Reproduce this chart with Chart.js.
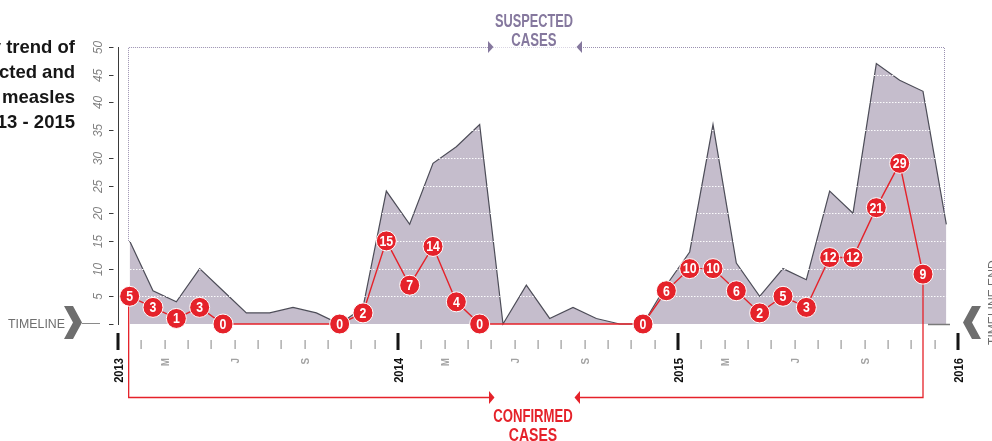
<!DOCTYPE html>
<html><head><meta charset="utf-8">
<script src="https://cdn.jsdelivr.net/npm/chart.js@4.4.1/dist/chart.umd.min.js"></script>
<style>html,body{margin:0;padding:0;background:#fff;overflow:hidden}canvas{display:block}</style>
</head><body>
<canvas id="c" width="992" height="441"></canvas>
<script>
// ---- data ----
const years = ['2013', '2014', '2015'];
const monthNames = ['Jan','Feb','Mar','Apr','May','Jun','Jul','Aug','Sep','Oct','Nov','Dec'];
const yearTickLabels = ['2013', '2014', '2015', '2016'];
const seasonMonthIdx = [2, 5, 8];
const seasonLetters = ['M', 'J', 'S'];
const yTicks = [0, 5, 10, 15, 20, 25, 30, 35, 40, 45, 50];
const suspected = [15, 6, 4, 10, 6, 2, 2, 3, 2, 0, 3, 24,
                   18, 29, 32, 36, 0, 7, 1, 3, 1, 0, 0, 7,
                   13, 36, 11, 5, 10, 8, 24, 20, 47, 44, 42, 18];
const confirmed = [5, 3, 1, 3, 0, null, null, null, null, 0, 2, 15,
                   7, 14, 4, 0, null, null, null, null, null, null, 0, 6,
                   10, 10, 6, 2, 5, 3, 12, 12, 21, 29, 9, null];
const titleLines = ['Monthly trend of', 'suspected and', 'confirmed measles', 'cases, 2013 - 2015'];

const categories = [];
years.forEach(y => monthNames.forEach(m => categories.push(m + ' ' + y)));

const RED = '#e5222a';
const PURPLE = '#85789e';
const FONT = '"Liberation Sans", Arial, sans-serif';

function condText(ctx, text, x, y, font, color, sx, align) {
  ctx.save();
  ctx.font = font; ctx.fillStyle = color;
  ctx.textAlign = align || 'center';
  ctx.translate(x, y); ctx.scale(sx, 1);
  ctx.fillText(text, 0, 0);
  ctx.restore();
}
function rotText(ctx, text, x, y, font, color, align, baseline, sx) {
  ctx.save();
  ctx.font = font; ctx.fillStyle = color;
  ctx.textAlign = align; ctx.textBaseline = baseline;
  ctx.translate(x, y); ctx.rotate(-Math.PI / 2); ctx.scale(sx || 1, 1);
  ctx.fillText(text, 0, 0);
  ctx.restore();
}
function tri(ctx, pts, color) {
  ctx.save(); ctx.fillStyle = color; ctx.beginPath();
  ctx.moveTo(pts[0][0], pts[0][1]); ctx.lineTo(pts[1][0], pts[1][1]); ctx.lineTo(pts[2][0], pts[2][1]);
  ctx.closePath(); ctx.fill(); ctx.restore();
}

const decor = {
  id: 'decor',
  afterDatasetDraw(chart, args) {
    const { ctx, chartArea: a, scales: { x, y } } = chart;
    if (args.index === 0) {
      // white dotted grid over the area
      ctx.save();
      ctx.strokeStyle = 'rgba(255,255,255,0.95)'; ctx.lineWidth = 1; ctx.setLineDash([1.5, 1.5]);
      yTicks.forEach(v => {
        if (v === 0 || v === 50) return;
        const py = Math.round(y.getPixelForValue(v)) + 0.5;
        ctx.beginPath(); ctx.moveTo(a.left, py); ctx.lineTo(a.right, py); ctx.stroke();
      });
      ctx.restore();

      // suspected bracket (top, dotted)
      const sMeta = chart.getDatasetMeta(0).data;
      const p0 = sMeta[0], pL = sMeta[sMeta.length - 1];
      ctx.save();
      ctx.strokeStyle = '#9a90b0'; ctx.lineWidth = 1; ctx.setLineDash([1, 1]);
      const ty = a.top + 0.5;
      ctx.beginPath();
      ctx.moveTo(Math.round(p0.x) - 1.5, p0.y); ctx.lineTo(Math.round(p0.x) - 1.5, ty); ctx.lineTo(489, ty);
      ctx.moveTo(579, ty); ctx.lineTo(Math.round(pL.x) - 1.5, ty); ctx.lineTo(Math.round(pL.x) - 1.5, pL.y - 12);
      ctx.stroke();
      ctx.strokeStyle = 'rgba(180,172,200,0.5)';
      ctx.beginPath(); ctx.moveTo(493, ty); ctx.lineTo(577, ty); ctx.stroke();
      ctx.restore();
      tri(ctx, [[488, 41], [493.5, 47], [488, 53]], PURPLE);
      tri(ctx, [[582, 41], [576.5, 47], [582, 53]], PURPLE);

      // confirmed bracket (bottom, red)
      const cMeta = chart.getDatasetMeta(1).data;
      let last = 0;
      confirmed.forEach((v, i) => { if (v !== null) last = i; });
      const c0 = cMeta[0], cL = cMeta[last];
      const by = 397.5;
      ctx.save();
      ctx.strokeStyle = RED; ctx.lineWidth = 1.3;
      ctx.beginPath();
      ctx.moveTo(c0.x - 1, c0.y); ctx.lineTo(c0.x - 1, by); ctx.lineTo(490, by);
      ctx.moveTo(578, by); ctx.lineTo(cL.x, by); ctx.lineTo(cL.x, cL.y);
      ctx.stroke();
      ctx.restore();
      tri(ctx, [[489, 391], [494.5, 397.5], [489, 404]], RED);
      tri(ctx, [[580, 391], [574.5, 397.5], [580, 404]], RED);
    }
    if (args.index === 1) {
      const meta = chart.getDatasetMeta(1).data;
      ctx.save();
      ctx.textBaseline = 'middle';
      confirmed.forEach((v, i) => {
        if (v === null) return;
        const p = meta[i];
        condText(ctx, String(v), p.x, p.y + 1, 'bold 14px ' + FONT, '#fff', 0.88);
      });
      ctx.restore();
    }
  },
  afterDraw(chart) {
    const { ctx, chartArea: a, scales: { x, y } } = chart;
    const step = x.getPixelForValue(1) - x.getPixelForValue(0);
    const bound = k => x.getPixelForValue(0) - step / 2 + k * step;

    // y axis
    ctx.save();
    ctx.strokeStyle = '#3a3a3a'; ctx.lineWidth = 1;
    ctx.beginPath(); ctx.moveTo(a.left + 0.5, a.top); ctx.lineTo(a.left + 0.5, a.bottom + 1); ctx.stroke();
    yTicks.forEach(v => {
      const py = Math.round(y.getPixelForValue(v)) + 0.5;
      ctx.beginPath(); ctx.moveTo(109, py); ctx.lineTo(113.5, py); ctx.stroke();
      if (v !== 0) rotText(ctx, String(v), 99, py, 'italic 12.5px ' + FONT, '#808080', 'center', 'middle', 0.95);
    });
    ctx.restore();

    // x axis ticks
    ctx.save();
    for (let k = 0; k <= 36; k++) {
      const px = Math.round(bound(k));
      if (k % 12 === 0) {
        ctx.fillStyle = '#151515';
        ctx.fillRect(px - 1.5, 333, 3, 17);
        rotText(ctx, yearTickLabels[k / 12], px + 1, 358, 'bold 13px ' + FONT, '#111', 'right', 'middle', 0.86);
      } else {
        ctx.fillStyle = '#9a9a9a';
        ctx.fillRect(px - 0.5, 340, 1.2, 9);
        const mi = seasonMonthIdx.indexOf(k % 12);
        if (mi >= 0) rotText(ctx, seasonLetters[mi], px + 1, 358, 'bold 11px ' + FONT, '#a2a2a2', 'right', 'middle', 0.9);
      }
    }
    ctx.restore();

    // timeline left
    ctx.save();
    condText(ctx, 'TIMELINE', 65, 328, '13px ' + FONT, '#6e6e6e', 0.95, 'right');
    ctx.fillStyle = '#6e6e6e';
    ctx.beginPath();
    ctx.moveTo(64, 306); ctx.lineTo(73, 306); ctx.lineTo(82, 322.5); ctx.lineTo(73, 339);
    ctx.lineTo(64, 339); ctx.lineTo(73, 322.5); ctx.closePath(); ctx.fill();
    ctx.strokeStyle = '#8a8a8a'; ctx.lineWidth = 1;
    ctx.beginPath(); ctx.moveTo(82, 323.5); ctx.lineTo(100, 323.5); ctx.stroke();
    // timeline right
    ctx.fillStyle = '#6e6e6e';
    ctx.beginPath();
    ctx.moveTo(981, 306); ctx.lineTo(972, 306); ctx.lineTo(963, 322.5); ctx.lineTo(972, 339);
    ctx.lineTo(981, 339); ctx.lineTo(972, 322.5); ctx.closePath(); ctx.fill();
    ctx.strokeStyle = '#7a7a7a'; ctx.lineWidth = 1.5;
    ctx.beginPath(); ctx.moveTo(928, 324.5); ctx.lineTo(950, 324.5); ctx.stroke();
    rotText(ctx, 'TIMELINE END', 987, 345, '13px ' + FONT, '#6e6e6e', 'left', 'top', 0.93);
    ctx.restore();

    // annotations text
    condText(ctx, 'SUSPECTED', 534, 27, 'bold 18px ' + FONT, PURPLE, 0.71);
    condText(ctx, 'CASES', 534, 46, 'bold 18px ' + FONT, PURPLE, 0.73);
    condText(ctx, 'CONFIRMED', 533, 422, 'bold 18px ' + FONT, RED, 0.73);
    condText(ctx, 'CASES', 533, 441, 'bold 18px ' + FONT, RED, 0.78);

    // title
    ctx.save();
    ctx.font = 'bold 18.5px ' + FONT; ctx.fillStyle = '#161616'; ctx.textAlign = 'right';
    titleLines.forEach((t, i) => ctx.fillText(t, 75, 53 + i * 25));
    ctx.restore();
  }
};

new Chart(document.getElementById('c'), {
  type: 'line',
  data: {
    labels: categories,
    datasets: [
      { label: 'Suspected cases', data: suspected, fill: 'origin', backgroundColor: '#c5bdcc',
        borderColor: '#4d4d58', borderWidth: 1.2, pointRadius: 0, pointHoverRadius: 0, tension: 0, order: 2, clip: false },
      { label: 'Confirmed cases', data: confirmed, spanGaps: true, fill: false, borderColor: RED, borderWidth: 1.4,
        pointRadius: 10, pointHoverRadius: 10, pointBackgroundColor: RED, pointBorderColor: '#ffffff',
        pointBorderWidth: 1, tension: 0, order: 1, clip: false }
    ]
  },
  options: {
    responsive: false, animation: false, devicePixelRatio: 1,
    events: [],
    layout: { padding: { left: 118, right: 34, top: 47, bottom: 117 } },
    plugins: { legend: { display: false }, tooltip: { enabled: false } },
    scales: {
      x: { type: 'category', offset: true, display: false },
      y: { min: 0, max: 50, display: false }
    }
  },
  plugins: [decor]
});
</script>
</body></html>
